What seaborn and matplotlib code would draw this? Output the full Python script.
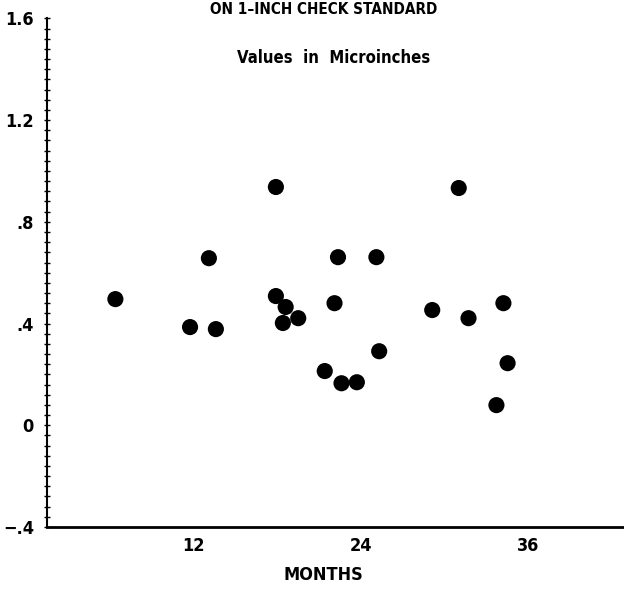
import numpy as np
import pandas as pd
import matplotlib
matplotlib.use("Agg")
import matplotlib.pyplot as plt
from matplotlib.ticker import MultipleLocator
import seaborn as sns

# values
months = [6.4, 11.75, 13.6, 13.1, 17.9, 17.9, 18.6, 18.4, 19.5, 21.4, 22.6,
          23.7, 22.1, 22.35, 25.1, 25.3, 29.1, 31.0, 31.7, 33.7, 34.2, 34.5]
values = [0.496, 0.386, 0.378, 0.657, 0.937, 0.508, 0.465, 0.402, 0.421, 0.213, 0.165,
          0.169, 0.480, 0.661, 0.661, 0.291, 0.453, 0.933, 0.421, 0.079, 0.480, 0.244]
x_ticks = [12, 24, 36]
y_ticks = [-0.4, 0, 0.4, 0.8, 1.2, 1.6]
y_tick_labels = ["\u2212.4", "0", ".4", ".8", "1.2", "1.6"]

data = pd.DataFrame({"Months": months, "Value": values})

sns.set_style("ticks")
plt.rcParams["font.family"] = ["DejaVu Sans"]
plt.rcParams["font.stretch"] = "condensed"
plt.rcParams["font.weight"] = "bold"
for key in ["text.color", "axes.edgecolor", "xtick.color", "ytick.color",
            "xtick.labelcolor", "ytick.labelcolor"]:
    plt.rcParams[key] = "black"

fig = plt.figure(figsize=(6.24, 5.92), dpi=100)
ax = fig.add_axes([0.0753, 0.110, 1 - 0.0753, 0.8588])

sns.scatterplot(data=data, x="Months", y="Value", ax=ax, s=135,
                color="black", edgecolor="none", linewidth=0)

ax.set_xlim(1.5, 42.84)
ax.set_ylim(-0.4, 1.6)
ax.set_xticks(x_ticks)
ax.set_xticklabels([str(t) for t in x_ticks], fontsize=13, fontweight="bold")
ax.set_yticks(y_ticks)
ax.set_yticklabels(y_tick_labels, fontsize=13, fontweight="bold")
ax.yaxis.set_minor_locator(MultipleLocator(0.04))
ax.tick_params(axis="y", which="both", direction="inout", length=5, width=1, pad=7)
ax.tick_params(axis="x", length=0, pad=7)

ax.spines["top"].set_visible(False)
ax.spines["right"].set_visible(False)
ax.spines["left"].set_linewidth(1.5)
ax.spines["bottom"].set_linewidth(2)
ax.set_xlabel("")
ax.set_ylabel("")

fig.text(0.519, 0.029, "MONTHS", ha="center", va="center", fontsize=13, fontweight="bold")
fig.text(0.535, 1 - 58 / 592, "Values  in  Microinches", ha="center", va="center",
         fontsize=12, fontweight="bold")
fig.text(0.518, 1 - 14 / 592, "ON 1\u2013INCH CHECK STANDARD", ha="center", va="baseline",
         fontsize=11, fontweight="bold")

fig.savefig("out.png", dpi=100)
